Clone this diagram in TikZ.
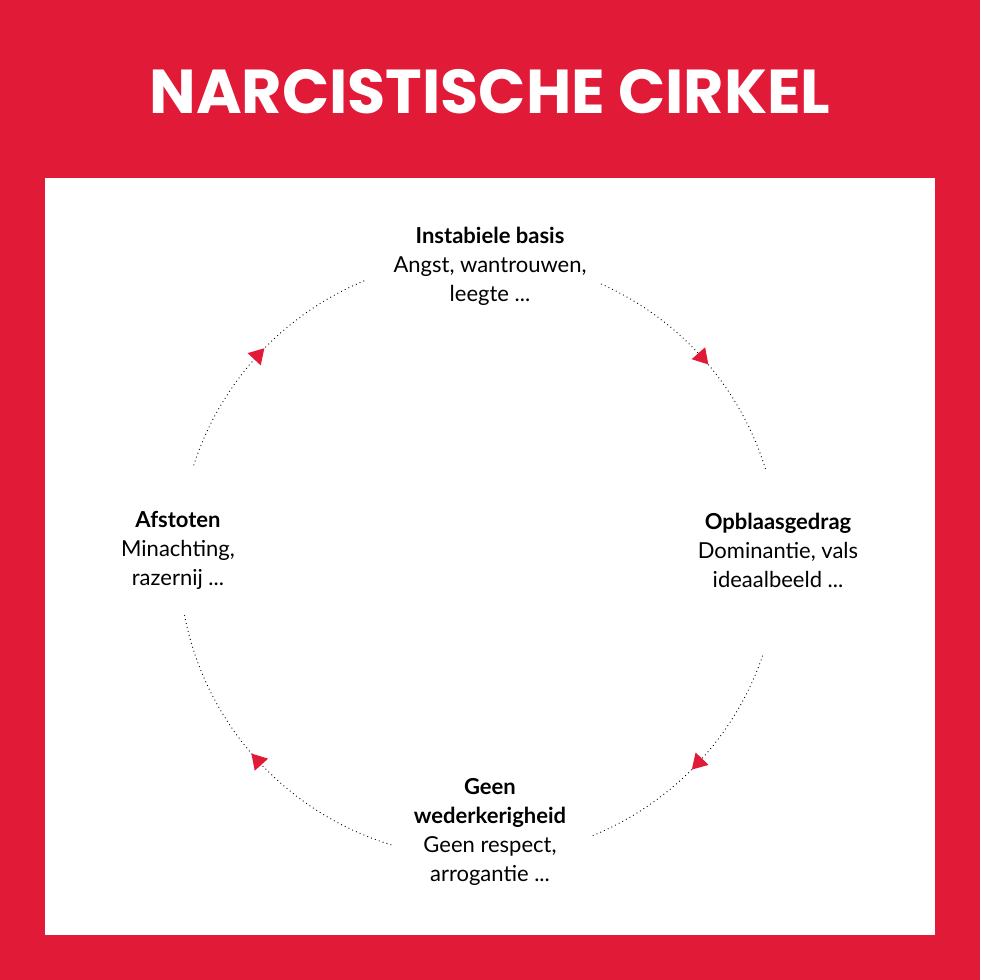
\documentclass[tikz,border=0pt]{standalone}
\usepackage{fontspec}
\setmainfont{Lato}
\newfontfamily\titlefont{Poppins}
\usetikzlibrary{decorations.markings,arrows.meta,calc}
\definecolor{brandred}{HTML}{E11A38}
\begin{document}
\begin{tikzpicture}[x=1pt,y=1pt,
  lbl/.style={align=center,font=\fontsize{22}{29}\selectfont,text=black},
  cyc/.style={line width=0.9pt,dash pattern=on 0.9pt off 3.2pt,
    postaction={decorate},decoration={markings,
      mark=at position 0.5 with {\fill[brandred] (7,0) -- (-8,9) -- (-8,-9) -- cycle;}}}]
\fill[brandred] (0,0) rectangle (980,980);
\fill[white] (45,45) rectangle (935,802);
\node[text=white,font=\titlefont\bfseries\fontsize{62}{62}\selectfont] (title) at (490,888) {NARCISTISCHE CIRKEL};
\coordinate (c) at (479,422);
\node[lbl] (top) at (490,714) {\textbf{Instabiele basis}\\Angst, wantrouwen,\\leegte ...};
\node[lbl] (right) at (778,430) {\textbf{Opblaasgedrag}\\Dominantie, vals\\ideaalbeeld ...};
\node[lbl] (bottom) at (490,148) {\textbf{Geen}\\\textbf{wederkerigheid}\\Geen respect,\\arrogantie ...};
\node[lbl] (left) at (178,430) {\textbf{Afstoten}\\Minachting,\\razernij ...};
\draw[cyc] ($(c)+(66:300)$) arc[start angle=66,end angle=17,radius=300];
\draw[cyc] ($(c)+(-19:300)$) arc[start angle=-19,end angle=-68,radius=300];
\draw[cyc] ($(c)+(-107:300)$) arc[start angle=-107,end angle=-169,radius=300];
\draw[cyc] ($(c)+(162:300)$) arc[start angle=162,end angle=112,radius=300];
\end{tikzpicture}
\end{document}
